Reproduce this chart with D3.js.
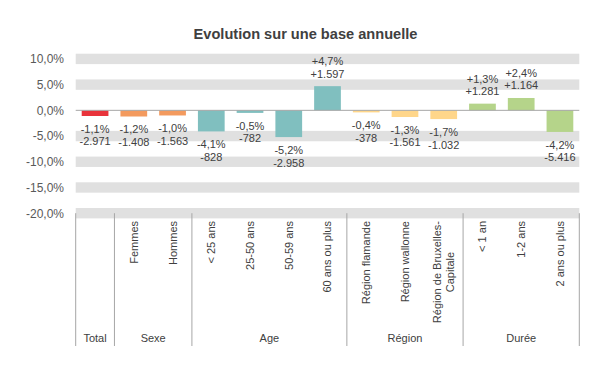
<!DOCTYPE html>
<html>
<head>
<meta charset="utf-8">
<script src="https://cdn.jsdelivr.net/npm/d3@7"></script>
<style>
  body { margin: 0; background: #fff; }
  text { font-family: "Liberation Sans", Arial, sans-serif; }
</style>
</head>
<body>
<div id="chart"></div>
<script>
var categories = ["Total", "Femmes", "Hommes", "< 25 ans", "25-50 ans", "50-59 ans", "60 ans ou plus",
                  "Région flamande", "Région wallonne", "Région de Bruxelles-\nCapitale",
                  "< 1 an", "1-2 ans", "2 ans ou plus"];
var groupOf = ["Total", "Sexe", "Sexe", "Age", "Age", "Age", "Age",
               "Région", "Région", "Région", "Durée", "Durée", "Durée"];
var groups = ["Total", "Sexe", "Age", "Région", "Durée"];
var pctValues = [-1.1, -1.2, -1.0, -4.1, -0.5, -5.2, 4.7, -0.4, -1.3, -1.7, 1.3, 2.4, -4.2];
var countLabels = ["-2.971", "-1.408", "-1.563", "-828", "-782", "-2.958", "+1.597",
                   "-378", "-1.561", "-1.032", "+1.281", "+1.164", "-5.416"];
var yTicks = [10, 5, 0, -5, -10, -15, -20];
var groupColors = {"Total": "#e8333b", "Sexe": "#f39a5e", "Age": "#80bfbf", "Région": "#ffd68a", "Durée": "#b5d48a"};

function init() {
    var w = 611, h = 376;
    var left = 75.7, right = 579.3;
    var svg = d3.select("#chart").append("svg")
        .attr("width", w).attr("height", h);

    var x = d3.scaleBand()
        .domain(d3.range(categories.length))
        .range([left, right])
        .paddingInner(0.31)
        .paddingOuter(0.155);
    var step = (right - left) / categories.length;

    var y = d3.scaleLinear().domain([-20, 10]).range([213.2, 58.9]);

    var fmt = function(v) {
        return (v > 0 ? "+" : "") + v.toFixed(1).replace(".", ",") + "%";
    };

    svg.append("text")
        .attr("x", 305.5).attr("y", 38.5)
        .attr("text-anchor", "middle")
        .attr("font-size", "14.6px").attr("font-weight", "bold")
        .attr("fill", "#404040")
        .text("Evolution sur une base annuelle");

    // grid bands
    svg.selectAll("rect.band")
        .data(yTicks.filter(function(d) { return d !== 0; }))
        .enter().append("rect")
        .attr("class", "band")
        .attr("x", left).attr("width", right - left)
        .attr("y", function(d) { return y(d) - 5.2; })
        .attr("height", 10.4)
        .attr("fill", "#e0e0e0");

    // y tick labels
    svg.selectAll("text.ytick")
        .data(yTicks)
        .enter().append("text")
        .attr("class", "ytick")
        .attr("x", 64).attr("y", function(d) { return y(d); })
        .attr("dy", "0.36em")
        .attr("text-anchor", "end")
        .attr("font-size", "12px")
        .attr("fill", "#595959")
        .text(function(d) { return d.toFixed(1).replace(".", ",") + "%"; });

    // bars
    svg.selectAll("rect.bar")
        .data(pctValues)
        .enter().append("rect")
        .attr("class", "bar")
        .attr("x", function(d, i) { return x(i); })
        .attr("width", x.bandwidth())
        .attr("y", function(d) { return y(Math.max(0, d)); })
        .attr("height", function(d) { return Math.abs(y(d) - y(0)); })
        .attr("fill", function(d, i) { return groupColors[groupOf[i]]; });

    // zero line
    svg.append("line")
        .attr("x1", left).attr("x2", right)
        .attr("y1", y(0)).attr("y2", y(0))
        .attr("stroke", "#a6a6a6").attr("stroke-width", 1);

    // data labels
    var labels = svg.selectAll("g.dlabel")
        .data(pctValues)
        .enter().append("g")
        .attr("class", "dlabel")
        .attr("transform", function(d, i) {
            return "translate(" + (x(i) + x.bandwidth() / 2) + "," + y(d) + ")";
        });
    labels.append("text")
        .attr("text-anchor", "middle")
        .attr("font-size", "11px").attr("fill", "#404040")
        .attr("y", function(d) { return d < 0 ? 13 : -25; })
        .attr("dy", "0.36em")
        .text(function(d) { return fmt(d); });
    labels.append("text")
        .attr("text-anchor", "middle")
        .attr("font-size", "11px").attr("fill", "#404040")
        .attr("y", function(d) { return d < 0 ? 25.5 : -12.5; })
        .attr("dy", "0.36em")
        .text(function(d, i) { return countLabels[i]; });

    // group dividers
    var bounds = [0];
    groups.forEach(function(g) {
        var n = groupOf.filter(function(k) { return k === g; }).length;
        bounds.push(bounds[bounds.length - 1] + n);
    });
    svg.selectAll("line.div")
        .data(bounds)
        .enter().append("line")
        .attr("class", "div")
        .attr("x1", function(b) { return left + b * step; })
        .attr("x2", function(b) { return left + b * step; })
        .attr("y1", y(-20)).attr("y2", 346)
        .attr("stroke", "#a6a6a6").attr("stroke-width", 1);

    svg.selectAll("text.group")
        .data(groups)
        .enter().append("text")
        .attr("class", "group")
        .attr("x", function(g, i) { return left + (bounds[i] + bounds[i + 1]) / 2 * step; })
        .attr("y", 338.5).attr("dy", "0.36em")
        .attr("text-anchor", "middle")
        .attr("font-size", "11px").attr("fill", "#404040")
        .text(function(g) { return g; });

    // rotated category labels
    var top = 221;
    categories.forEach(function(c, i) {
        if (i === 0) return;
        var lines = c.split("\n");
        var cx = x(i) + x.bandwidth() / 2;
        var t = svg.append("text")
            .attr("text-anchor", "middle")
            .attr("font-size", "11px").attr("fill", "#404040");
        lines.forEach(function(l, j) {
            t.append("tspan")
                .attr("x", 0)
                .attr("y", (j - (lines.length - 1) / 2) * 13.3)
                .attr("dy", "0.36em")
                .text(l);
        });
        var len = d3.max(t.selectAll("tspan").nodes(), function(n) { return n.getComputedTextLength(); });
        t.attr("transform", "translate(" + cx + "," + (top + len / 2) + ") rotate(-90)");
    });
}
window.onload = init;
</script>
</body>
</html>
